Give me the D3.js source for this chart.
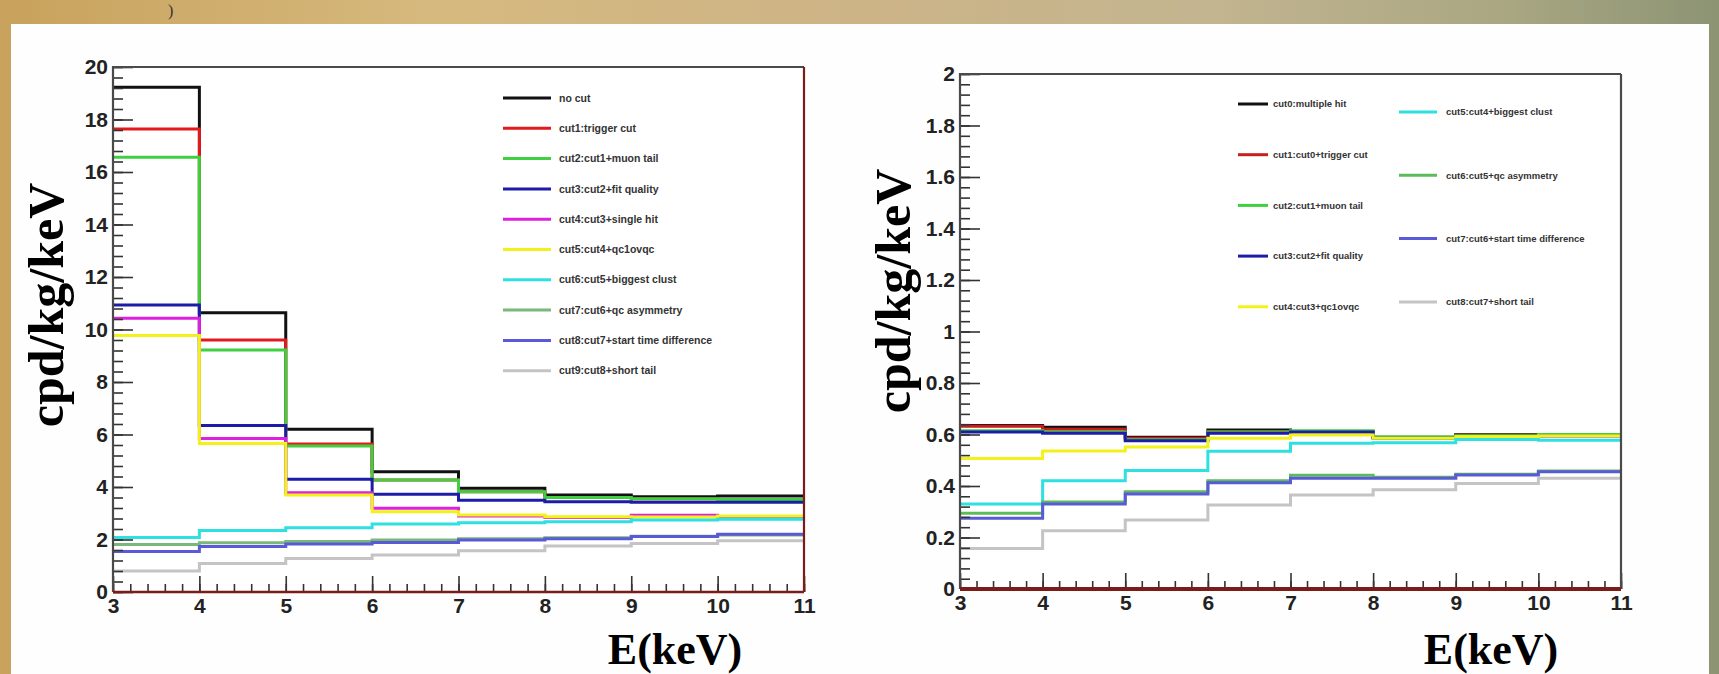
<!DOCTYPE html>
<html>
<head>
<meta charset="utf-8">
<script src="https://cdn.jsdelivr.net/npm/d3@7"></script>
<style>
  body { margin: 0; background: #fff; }
  svg { display: block; }
</style>
</head>
<body>
<svg id="chart"></svg>
<script>
// bin edges (keV), shared by both panels
const bins = [3, 4, 5, 6, 7, 8, 9, 10, 11];

// left panel: cpd/kg/keV per bin
const leftNoCut   = [19.23, 10.64, 6.20, 4.58, 3.95, 3.70, 3.63, 3.66];
const leftCut1    = [17.64, 9.60, 5.64, 4.27, 3.82, 3.60, 3.55, 3.52];
const leftCut2    = [16.56, 9.22, 5.56, 4.27, 3.82, 3.60, 3.55, 3.52];
const leftCut3    = [10.93, 6.34, 4.30, 3.72, 3.50, 3.44, 3.42, 3.42];
const leftCut4    = [10.43, 5.85, 3.78, 3.19, 2.90, 2.84, 2.92, 2.85];
const leftCut5    = [9.77, 5.66, 3.70, 3.06, 2.93, 2.87, 2.86, 2.90];
const leftCut6    = [2.08, 2.34, 2.45, 2.59, 2.64, 2.68, 2.74, 2.77];
const leftCut7    = [1.81, 1.88, 1.92, 1.98, 2.03, 2.07, 2.12, 2.17];
const leftCut8    = [1.54, 1.73, 1.83, 1.89, 1.98, 2.03, 2.11, 2.20];
const leftCut9    = [0.80, 1.09, 1.28, 1.41, 1.57, 1.75, 1.85, 1.95];
const leftLabels = ["no cut", "cut1:trigger cut", "cut2:cut1+muon tail", "cut3:cut2+fit quality",
  "cut4:cut3+single hit", "cut5:cut4+qc1ovqc", "cut6:cut5+biggest clust", "cut7:cut6+qc asymmetry",
  "cut8:cut7+start time difference", "cut9:cut8+short tail"];
const leftYTicks = [0, 2, 4, 6, 8, 10, 12, 14, 16, 18, 20];

// right panel
const rightCut0 = [0.635, 0.628, 0.589, 0.617, 0.612, 0.589, 0.600, 0.597];
const rightCut1 = [0.632, 0.620, 0.585, 0.612, 0.610, 0.588, 0.598, 0.595];
const rightCut2 = [0.615, 0.610, 0.580, 0.610, 0.615, 0.590, 0.597, 0.600];
const rightCut3 = [0.610, 0.605, 0.576, 0.605, 0.610, 0.585, 0.593, 0.595];
const rightCut4 = [0.507, 0.536, 0.551, 0.585, 0.598, 0.585, 0.592, 0.595];
const rightCut5 = [0.330, 0.420, 0.460, 0.535, 0.566, 0.568, 0.581, 0.578];
const rightCut6 = [0.294, 0.338, 0.378, 0.420, 0.442, 0.434, 0.446, 0.458];
const rightCut7 = [0.275, 0.330, 0.369, 0.413, 0.430, 0.430, 0.443, 0.455];
const rightCut8 = [0.157, 0.226, 0.268, 0.326, 0.365, 0.385, 0.410, 0.430];
const rightLabels = ["cut0:multiple hit", "cut1:cut0+trigger cut", "cut2:cut1+muon tail",
  "cut3:cut2+fit quality", "cut4:cut3+qc1ovqc", "cut5:cut4+biggest clust",
  "cut6:cut5+qc asymmetry", "cut7:cut6+start time difference", "cut8:cut7+short tail"];
const rightYTicks = [0, 0.2, 0.4, 0.6, 0.8, 1, 1.2, 1.4, 1.6, 1.8, 2];

const leftColors = ["#111111", "#e31a1c", "#3fcf3f", "#1c1ca8", "#e020e0", "#f2f21a",
  "#2fe0e0", "#78b878", "#5a5ad8", "#c4c4c4"];
const rightColors = ["#111111", "#c81e1e", "#3fcf3f", "#1c1ca8", "#f2f21a",
  "#2fe0e0", "#5cbc5c", "#5a5ad8", "#c4c4c4"];

const W = 1719, H = 674;
const svg = d3.select("#chart").attr("width", W).attr("height", H);

// slide background: golden marble border + white page
const grad = svg.append("defs").append("linearGradient").attr("id", "topband");
[["0%", "#c8a25c"], ["25%", "#d6b97e"], ["50%", "#cdb487"], ["70%", "#c3b590"],
 ["88%", "#a9a682"], ["100%", "#8c9474"]].forEach(s =>
  grad.append("stop").attr("offset", s[0]).attr("stop-color", s[1]));
svg.append("rect").attr("width", W).attr("height", H).attr("fill", "url(#topband)");
svg.append("rect").attr("x", 11).attr("y", 24).attr("width", 1698).attr("height", H - 24)
  .attr("fill", "#fefefe");
svg.append("text").attr("x", 168).attr("y", 16).attr("font-family", "Liberation Serif")
  .attr("font-size", "16px").attr("fill", "#333").text(")");

function drawPanel(p) {
  const x = d3.scaleLinear().domain([3, 11]).range([p.x0, p.x1]);
  const y = d3.scaleLinear().domain([0, p.ymax]).range([p.yb, p.yt]);
  const g = svg.append("g");

  g.append("rect").attr("x", p.x0).attr("y", p.yt)
    .attr("width", p.x1 - p.x0).attr("height", p.yb - p.yt).attr("fill", "#fff");

  const line = d3.line()
    .x((d, i) => x(bins[i]))
    .y(d => y(d))
    .curve(d3.curveStepAfter);

  p.series.forEach((s, k) => {
    g.append("path")
      .datum(s.concat([s[s.length - 1]]))
      .attr("d", line)
      .attr("fill", "none")
      .attr("stroke", p.colors[k])
      .attr("stroke-width", 3);
  });

  // ticks inside the frame
  const minorY = d3.range(0, p.ymax + 1e-9, p.ymax / 50);
  const minorX = d3.range(3, 11.0001, 0.2);
  const tickStyle = sel => {
    sel.select(".domain").remove();
    sel.selectAll("line").attr("stroke", "#333").attr("stroke-width", 1.6);
  };
  g.append("g").attr("transform", `translate(${p.x0},0)`)
    .call(d3.axisRight(y).tickValues(minorY).tickSize(10).tickFormat("")).call(tickStyle);
  g.append("g").attr("transform", `translate(${p.x0},0)`)
    .call(d3.axisRight(y).tickValues(p.yTicks).tickSize(20).tickFormat("")).call(tickStyle);
  g.append("g").attr("transform", `translate(0,${p.yb})`)
    .call(d3.axisTop(x).tickValues(minorX).tickSize(8).tickFormat("")).call(tickStyle);
  g.append("g").attr("transform", `translate(0,${p.yb})`)
    .call(d3.axisTop(x).tickValues(bins).tickSize(16).tickFormat("")).call(tickStyle);

  // tick labels
  const labelStyle = sel => {
    sel.select(".domain").remove();
    sel.selectAll("text").attr("font-family", "Liberation Sans, Arial, sans-serif")
      .attr("font-size", "21px").attr("font-weight", "bold").attr("fill", "#222");
  };
  g.append("g").attr("transform", `translate(${p.x0},0)`)
    .call(d3.axisLeft(y).tickValues(p.yTicks).tickSize(0).tickPadding(5).tickFormat(d => String(d)))
    .call(labelStyle);
  g.append("g").attr("transform", `translate(0,${p.yb})`)
    .call(d3.axisBottom(x).tickValues(bins).tickSize(0).tickPadding(6))
    .call(labelStyle);

  // frame
  g.append("path").attr("d", `M${p.x0},${p.yb}V${p.yt}H${p.x1}`)
    .attr("fill", "none").attr("stroke", "#4a4a4a").attr("stroke-width", 2.2);
  g.append("line").attr("x1", p.x1).attr("x2", p.x1).attr("y1", p.yt).attr("y2", p.yb)
    .attr("stroke", p.rightColor).attr("stroke-width", 2.2);
  g.append("line").attr("x1", p.x0).attr("x2", p.x1).attr("y1", p.yb).attr("y2", p.yb)
    .attr("stroke", "#7d1a1a").attr("stroke-width", p.bottomWidth);

  // legend
  p.labels.forEach((t, k) => {
    const pos = p.legendPos(k);
    g.append("line").attr("x1", pos.lx0).attr("x2", pos.lx1).attr("y1", pos.y).attr("y2", pos.y)
      .attr("stroke", p.colors[k]).attr("stroke-width", 3);
    g.append("text").attr("x", pos.tx).attr("y", pos.y).attr("dy", "0.35em")
      .attr("font-family", "Liberation Sans, Arial, sans-serif").attr("font-weight", "bold")
      .attr("font-size", p.legendFont).attr("fill", "#333").text(t);
  });

  // axis titles
  g.append("text").attr("transform", `translate(${p.ylabX},${p.ylabY}) rotate(-90)`)
    .attr("text-anchor", "middle").attr("font-family", "Liberation Serif, serif")
    .attr("font-weight", "bold").attr("font-size", "50px").attr("fill", "#000")
    .text("cpd/kg/keV");
  g.append("text").attr("x", p.xlabX).attr("y", 664)
    .attr("text-anchor", "middle").attr("font-family", "Liberation Serif, serif")
    .attr("font-weight", "bold").attr("font-size", "44px").attr("fill", "#000")
    .text("E(keV)");
}

drawPanel({
  x0: 113, x1: 804, yt: 67, yb: 592, ymax: 20, yTicks: leftYTicks, colors: leftColors,
  series: [leftNoCut, leftCut1, leftCut2, leftCut3, leftCut4, leftCut5, leftCut6, leftCut7, leftCut8, leftCut9],
  labels: leftLabels, legendFont: "10.5px",
  legendPos: k => ({ lx0: 503, lx1: 551, tx: 559, y: 98 + k * 30.3 }),
  rightColor: "#7d1a1a", bottomWidth: 2.5,
  ylabX: 63, ylabY: 305, xlabX: 675
});

drawPanel({
  x0: 960, x1: 1621, yt: 74, yb: 589, ymax: 2, yTicks: rightYTicks, colors: rightColors,
  series: [rightCut0, rightCut1, rightCut2, rightCut3, rightCut4, rightCut5, rightCut6, rightCut7, rightCut8],
  labels: rightLabels, legendFont: "9.5px",
  legendPos: k => k < 5
    ? { lx0: 1238, lx1: 1268, tx: 1273, y: 104 + k * 50.7 }
    : { lx0: 1399, lx1: 1437, tx: 1446, y: 112 + (k - 5) * 63.3 },
  rightColor: "#4a4a4a", bottomWidth: 4,
  ylabX: 910, ylabY: 291, xlabX: 1491
});
</script>
</body>
</html>
